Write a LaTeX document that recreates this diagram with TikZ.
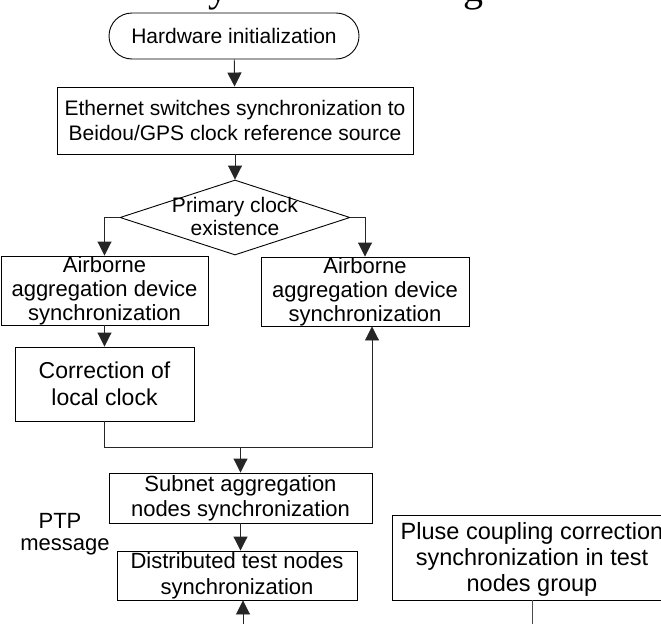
\documentclass[tikz,border=0pt]{standalone}
\usepackage{fontspec}
\setmainfont{Liberation Sans}
\newfontfamily\titleserif{Liberation Serif}
\usetikzlibrary{shapes.geometric,arrows.meta}
\begin{document}
\begin{tikzpicture}[x=1pt,y=-1pt,
  box/.style={draw,line width=0.9pt,inner sep=0pt,align=center,font=\fontsize{22}{24}\selectfont},
  arr/.style={line width=0.9pt,draw=black!85,-{Triangle[width=14pt,length=14pt]}},
  ln/.style={line width=0.9pt,draw=black!70},
  lbl/.style={inner sep=0pt,font=\fontsize{22}{24}\selectfont},
  frag/.style={inner sep=0pt,anchor=base,font=\titleserif\fontsize{40}{40}\selectfont}]
\useasboundingbox (0,0) rectangle (661,624);
% cropped title fragments
\node[frag] (ty) at (218,1.5) {y};
\node[frag] (tg) at (473,1) {g};
% nodes
\node[box,rounded corners=23pt,minimum width=250pt,minimum height=46pt,font=\fontsize{21}{24}\selectfont] (hw) at (234,36) {Hardware initialization};
\node[box,minimum width=356pt,minimum height=67pt,font=\fontsize{21}{25}\selectfont] (eth) at (235,120.5) {Ethernet switches synchronization to\\Beidou/GPS clock reference source};
\node[draw,diamond,line width=0.9pt,inner sep=0pt,minimum width=230pt,minimum height=75pt] (dia) at (235,217.5) {};
\node[lbl,align=center,font=\fontsize{21}{23}\selectfont] (diat) at (235,216) {Primary clock\\existence};
\node[box,minimum width=207pt,minimum height=69pt] (lbox) at (104.5,290.5) {Airborne\\aggregation device\\synchronization};
\node[box,minimum width=208pt,minimum height=69pt] (rbox) at (365,291.5) {Airborne\\aggregation device\\synchronization};
\node[box,minimum width=179pt,minimum height=74pt,font=\fontsize{23}{27}\selectfont] (corr) at (104.5,384) {Correction of\\local clock};
\node[box,minimum width=263pt,minimum height=50pt,font=\fontsize{22}{25}\selectfont] (subnet) at (240.5,498) {Subnet aggregation\\nodes synchronization};
\node[box,minimum width=240pt,minimum height=49pt,font=\fontsize{22}{26}\selectfont] (dist) at (237,575.5) {Distributed test nodes\\synchronization};
\node[box,minimum width=280pt,minimum height=85pt,font=\fontsize{23.5}{26}\selectfont,text depth=2pt] (pluse) at (532,557.5) {Pluse coupling correction\\synchronization in test\\nodes group};
\node[lbl] (ptp) at (60,521) {PTP};
\node[lbl] (msg) at (65,547) {message};
% free ends
\coordinate (jr) at (372,447);
\coordinate (bot) at (243,624);
\coordinate (pb) at (532,624);
% connectors
\draw[arr] (hw) -- (eth);
\draw[arr] (eth) -- (dia);
\draw[arr] (dia.west) -| (lbox.north);
\draw[arr] (dia.east) -| (rbox.north);
\draw[arr] (lbox) -- (corr);
\draw[arr] (corr.south) |- (jr) -- (jr |- rbox.south);
\draw[arr] (subnet.north |- jr) -- (subnet.north);
\draw[arr] (subnet.south) -- (subnet.south |- dist.north);
\draw[arr] (bot) -- (bot |- dist.south);
\draw[ln] (pluse.south) -- (pb);
\end{tikzpicture}
\end{document}
